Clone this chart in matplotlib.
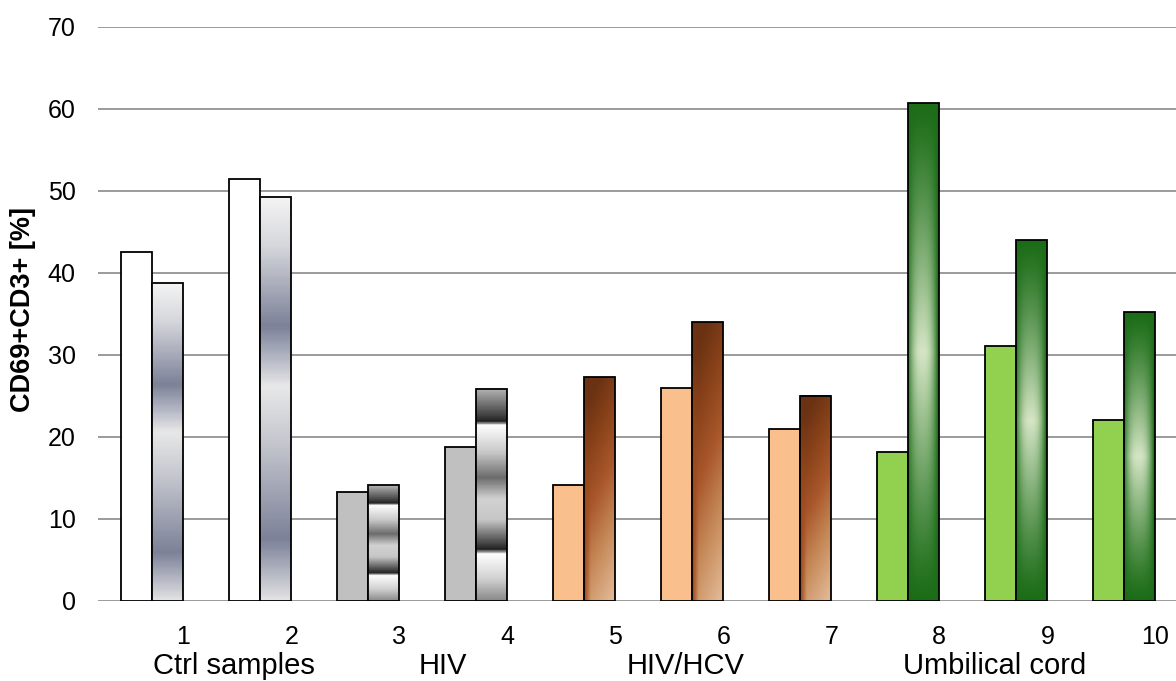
import matplotlib

matplotlib.use('Agg')
import matplotlib.pyplot as plt
import numpy as np
from matplotlib.colors import LinearSegmentedColormap, to_rgb
from matplotlib import transforms

plt.rcParams['font.family'] = ['Liberation Sans', 'DejaVu Sans']

# CD69+CD3+ percentages, two measurements per sample
samples = ['1', '2', '3', '4', '5', '6', '7', '8', '9', '10']
first = [42.5, 51.5, 13.3, 18.8, 14.1, 26.0, 21.0, 18.2, 31.1, 22.1]
second = [38.8, 49.3, 14.1, 25.9, 27.3, 34.0, 25.0, 60.7, 44.0, 35.2]
group_of = [0, 0, 1, 1, 2, 2, 2, 3, 3, 3]
groups = ['Ctrl samples', 'HIV', 'HIV/HCV', 'Umbilical cord']
group_label_x = [0.76, 2.69, 4.94, 7.80]

solid_colors = ['#ffffff', '#c0c0c0', '#f9c08e', '#92d050']

N = 300


def cmap_from(stops):
    return LinearSegmentedColormap.from_list('g', [(p, c) for p, c in stops])


# v runs 0 at the top of a bar to 1 at its base, u from left to right edge
def steel(u, v):
    cm = cmap_from([(0, '#f4f4f4'), (0.12, '#d6d7dc'), (0.32, '#7c8198'),
                    (0.40, '#b4b7c4'), (0.47, '#e8e8e8'), (0.62, '#c2c4cc'),
                    (0.85, '#7c8198'), (1.0, '#e2e2e4')])
    return cm(v)[..., :3]


def chrome(u, v):
    cm = cmap_from([(0, '#b4b4b4'), (0.13, '#3c3c3c'), (0.155, '#1e1e1e'),
                    (0.17, '#ffffff'), (0.30, '#c8c8c8'), (0.42, '#6c6c6c'),
                    (0.52, '#d2d2d2'), (0.62, '#c6c6c6'), (0.74, '#3a3a3a'),
                    (0.76, '#1e1e1e'), (0.78, '#ffffff'), (0.90, '#d0d0d0'),
                    (1.0, '#8a8a8a')])
    return cm(v)[..., :3]


def bronze(u, v):
    t = np.clip(v * 0.9 + (u - 0.5) * 0.25, 0, 1)
    cm = cmap_from([(0, '#6a3213'), (0.2, '#874119'), (0.45, '#a9572b'),
                    (0.7, '#c58857'), (1.0, '#e2b895')])
    rgb = cm(t)[..., :3]
    edge = np.clip(1 - u / 0.22, 0, 1) * np.clip(v * 1.4, 0, 1)
    rust = np.array(to_rgb('#9c4619'))
    return rgb * (1 - edge[..., None]) + rust * edge[..., None]


def leaf(u, v):
    dark = np.array(to_rgb('#1b6c17'))
    light = np.array(to_rgb('#d6e6c6'))
    f = (1 - np.abs(2 * v - 1)) ** 1.2
    g = 1 - np.abs(2 * u - 0.95) ** 2.5
    w = np.clip(f * g, 0, 1)
    return dark * (1 - w[..., None]) + light * w[..., None]


gradients = [steel, chrome, bronze, leaf]

fig = plt.figure(figsize=(11.76, 6.81), dpi=100)
ax = fig.add_axes([0.0833, 0.1175, 0.9184, 0.8429])

x = np.arange(len(samples))
width = 0.287

ax.yaxis.grid(True, color='#8a8a8a', linewidth=1.2)
ax.set_axisbelow(True)
for s in ax.spines.values():
    s.set_visible(False)

# plain bars for the first measurement
ax.bar(x - width / 2, first, width,
       color=[solid_colors[g] for g in group_of],
       edgecolor='black', linewidth=1.3, zorder=3)

# shaded bars for the second measurement
uu, vv = np.meshgrid(np.linspace(0, 1, 60), np.linspace(0, 1, N))
for xi, h, g in zip(x, second, group_of):
    img = gradients[g](uu, vv)
    ax.imshow(img, extent=(xi, xi + width, 0, h), origin='upper',
              aspect='auto', interpolation='bilinear', zorder=3)
ax.bar(x + width / 2, second, width, fill=False,
       edgecolor='black', linewidth=1.3, zorder=4)

ax.set_xlim(-0.5, 9.5)
ax.set_ylim(0, 70)
ax.set_yticks(np.arange(0, 71, 10))
ax.set_xticks(x + 0.29)
ax.set_xticklabels(samples)
ax.tick_params(axis='both', length=0, labelsize=18)
ax.tick_params(axis='y', pad=16)
ax.tick_params(axis='x', pad=17)

trans = transforms.blended_transform_factory(ax.transData, ax.transAxes)
for name, gx in zip(groups, group_label_x):
    ax.text(gx, -0.128, name, transform=trans, ha='center', va='baseline',
            fontsize=21)

fig.text(0.0196, 0.546, 'CD69+CD3+ [%]', rotation=90, ha='center',
         va='center', fontsize=19.5, fontweight='bold')

fig.savefig('out.png', dpi=100)
